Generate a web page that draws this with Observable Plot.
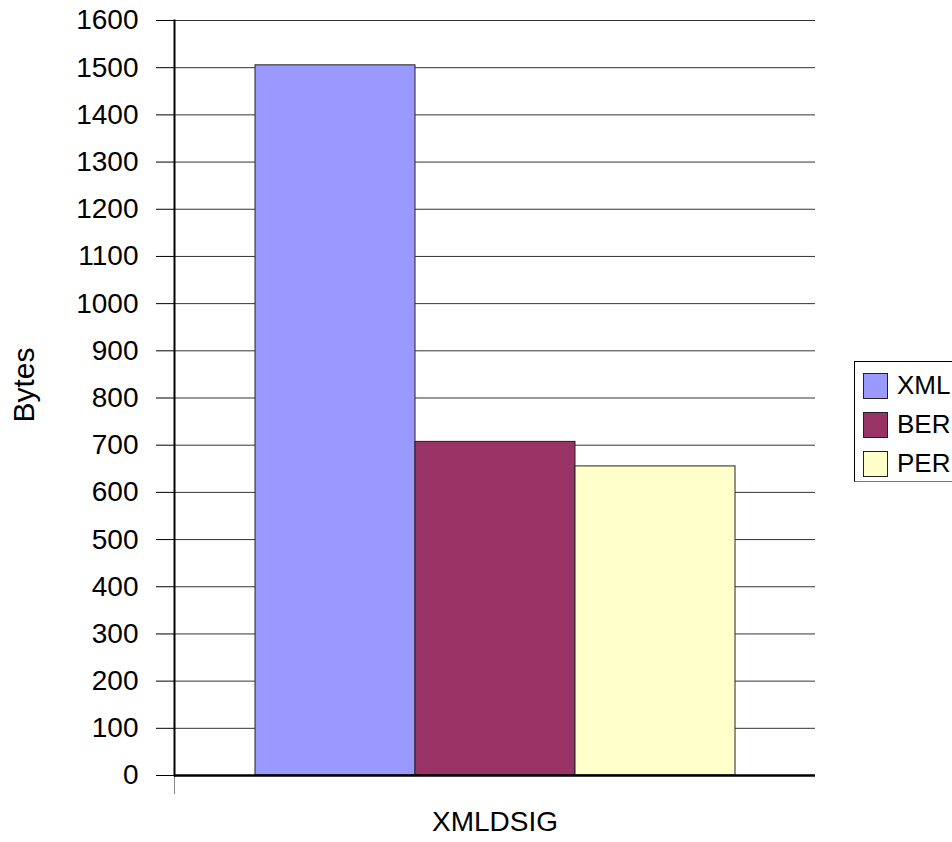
<!DOCTYPE html>
<html>
<head>
<meta charset="utf-8">
<script src="https://cdn.jsdelivr.net/npm/d3@7"></script>
<script src="https://cdn.jsdelivr.net/npm/@observablehq/plot@0.6"></script>
<style>
  html, body { margin: 0; padding: 0; background: #fff; overflow: hidden; }
  #wrap { position: relative; width: 952px; height: 842px; font-family: "Liberation Sans", Arial, sans-serif; }
  #legend { position: absolute; left: 854px; top: 361px; width: 120px; height: 121px;
            border: 1px solid #000; border-bottom-color: #777; box-sizing: border-box; background: #fff; }
  #legend .row { position: absolute; left: 8px; height: 27px; display: flex; align-items: center; }
  #legend .sw { width: 25px; height: 26px; border: 1px solid #222; box-sizing: border-box; }
  #legend .lab { margin-left: 9px; font-size: 26px; color: #000; line-height: 27px; }
</style>
</head>
<body>
<div id="wrap"></div>
<script>
// Message size in bytes for an XML signature, by encoding
const group = "XMLDSIG";
const encodings = ["XML", "BER", "PER"];
const bytes = [1505, 707, 655];
const colors = ["#9999FF", "#993366", "#FFFFCC"];
const yTicks = [0, 100, 200, 300, 400, 500, 600, 700, 800, 900, 1000, 1100, 1200, 1300, 1400, 1500, 1600];
const yTitle = "Bytes";

const rows = encodings.map((e, i) => ({group, encoding: e, bytes: bytes[i]}));

const chart = Plot.plot({
  width: 952,
  height: 842,
  marginLeft: 174,
  marginRight: 137,
  marginTop: 20,
  marginBottom: 67,
  style: {fontFamily: "Liberation Sans, Arial, sans-serif", fontSize: "28px", color: "#000", background: "#fff"},
  fx: {padding: 0, label: null, tickSize: 0, tickPadding: 36, fontSize: 30},
  x: {domain: encodings, paddingInner: 0, paddingOuter: 0.503, axis: null},
  y: {domain: [0, 1600], ticks: yTicks, tickFormat: d => String(d), tickSize: 18, tickPadding: 18, label: null},
  color: {domain: encodings, range: colors},
  marks: [
    Plot.ruleY(yTicks.filter(d => d > 0), {stroke: "#333", strokeWidth: 1}),
    Plot.frame({anchor: "left", stroke: "#888", insetBottom: -18}),
    Plot.barY(rows, {fx: "group", x: "encoding", y: "bytes", fill: "encoding", stroke: "#222", strokeWidth: 1}),
    Plot.frame({anchor: "left", stroke: "#000", strokeWidth: 2}),
    Plot.ruleY([0], {stroke: "#000", strokeWidth: 2.5}),
    // vertical axis title
    Plot.text([yTitle], {frameAnchor: "left", textAnchor: "middle", text: d => d, rotate: -90, dx: -150, dy: -13, fontSize: 30, fill: "#000"})
  ]
});

const wrap = document.getElementById("wrap");
wrap.appendChild(chart);

// Series legend on the right
const legend = document.createElement("div");
legend.id = "legend";
encodings.forEach((e, i) => {
  const row = document.createElement("div");
  row.className = "row";
  row.style.top = (10 + i * 39) + "px";
  const sw = document.createElement("div");
  sw.className = "sw";
  sw.style.background = colors[i];
  const lab = document.createElement("span");
  lab.className = "lab";
  lab.textContent = e;
  row.appendChild(sw);
  row.appendChild(lab);
  legend.appendChild(row);
});
wrap.appendChild(legend);
</script>
</body>
</html>
